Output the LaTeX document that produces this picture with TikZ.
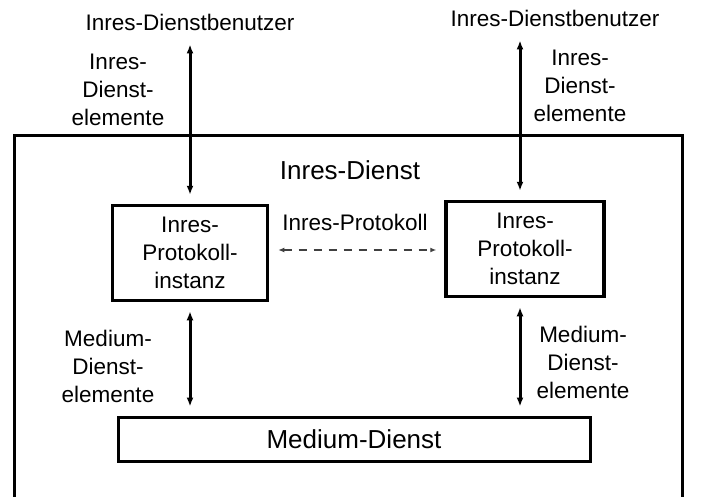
\documentclass[tikz,border=0pt]{standalone}
\usepackage{fontspec}
\setmainfont{Liberation Sans}
\usetikzlibrary{positioning,arrows.meta}

\begin{document}
\begin{tikzpicture}[
            x = 1pt, y = -1pt,
            every node/.append style = {font = \fontsize{22.5}{28}\selectfont, align = center, inner sep = 0pt},
            gross/.style = {font = \fontsize{26}{31}\selectfont},
            instanz/.style = {draw, line width = 3.5pt, minimum width = 155pt, minimum height = 95pt},
            dienstpfeil/.style = {{Latex[length=9pt,width=7pt]}-{Latex[length=9pt,width=7pt]}, line width = 3pt, shorten <= 9pt, shorten >= 9pt},
            protpfeil/.style = {{Latex[length=6pt,width=5pt]}-{Latex[length=6pt,width=5pt]}, black!75, line width = 1.3pt, dash pattern = on 8pt off 7pt, shorten <= 9pt, shorten >= 8pt}]
            \useasboundingbox (0,0) rectangle (703,497);
            % Rahmen des Inres-Dienstes
            \draw[line width = 3pt] (14,498) |- (682,136) -- (682,498);
            \node[gross] (dienst) at (350,170) {Inres-Dienst};
            \node (benutzerL) at (190,22) {Inres-Dienstbenutzer};
            \node (benutzerR) at (555,18) {Inres-Dienstbenutzer};
            \node (elementeL) at (118,90) {Inres-\\Dienst-\\elemente};
            \node (elementeR) at (580,86) {Inres-\\Dienst-\\elemente};
            \node[instanz] (protL) at (190,253) {Inres-\\Protokoll-\\instanz};
            \node[instanz, minimum width = 158pt] (protR) at (525,249) {Inres-\\Protokoll-\\instanz};
            \node (protokoll) at (355,222) {Inres-Protokoll};
            \node[gross, draw, line width = 3pt, minimum width = 472pt, minimum height = 44pt] (medium) at (354,439) {Medium-Dienst};
            \node (mediumL) at (108,366) {Medium-\\Dienst-\\elemente};
            \node (mediumR) at (583,362) {Medium-\\Dienst-\\elemente};
            % Pfeile
            \draw[dienstpfeil, shorten <= 14pt] (benutzerL) -- (protL);
            \draw[dienstpfeil, shorten <= 14pt] ([xshift=-5pt]protR.north |- benutzerR.south) -- ([xshift=-5pt]protR.north);
            \draw[dienstpfeil] (protL.south) -- (protL.south |- medium.north);
            \draw[dienstpfeil] ([xshift=-5pt]protR.south) -- ([xshift=-5pt]protR.south |- medium.north);
            \draw[protpfeil] ([yshift=3pt]protL.east) -- ([yshift=3pt]protL.east -| protR.west);
        \end{tikzpicture}
\end{document}
